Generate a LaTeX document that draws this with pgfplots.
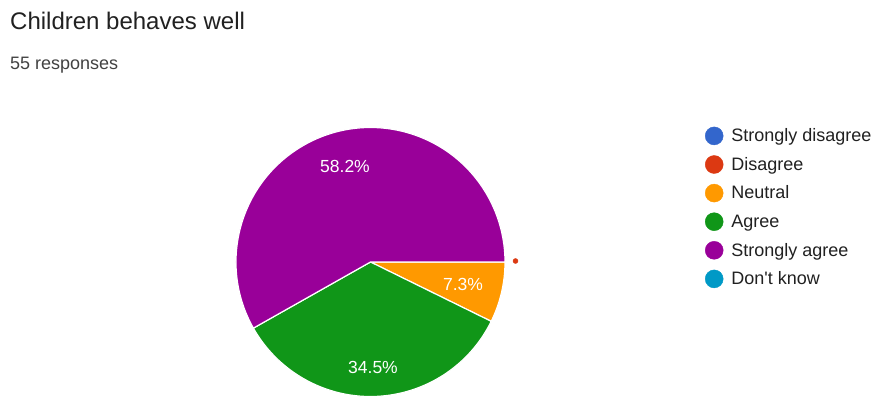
\documentclass[border=0pt]{standalone}
\usepackage{fontspec}
\setmainfont{Liberation Sans}
\usepackage{pgfplots}
\pgfplotsset{compat=1.18}
\usepackage{pgfplotstable}

\definecolor{cSD}{HTML}{3366CC}
\definecolor{cDis}{HTML}{DC3912}
\definecolor{cNeu}{HTML}{FF9900}
\definecolor{cAgr}{HTML}{109618}
\definecolor{cSA}{HTML}{990099}
\definecolor{cDK}{HTML}{0099C6}
\definecolor{txt}{HTML}{212121}

% responses per answer (55 in total)
\pgfplotstableread{
label count
Neutral 4
Agree 19
StronglyAgree 32
}\piedata
\pgfplotstablegetelem{0}{count}\of\piedata\let\cN\pgfplotsretval
\pgfplotstablegetelem{1}{count}\of\piedata\let\cA\pgfplotsretval
\pgfplotstablegetelem{2}{count}\of\piedata\let\cS\pgfplotsretval
\pgfmathsetmacro\total{\cN+\cA+\cS}
\pgfmathsetmacro\angN{-360*\cN/\total}
\pgfmathsetmacro\angA{\angN-360*\cA/\total}

\begin{document}
\begin{tikzpicture}
\begin{axis}[
  x=1pt, y=1pt, scale only axis,
  xmin=0, xmax=883, ymin=0, ymax=412,
  hide axis, clip=false,
  legend image code/.code={\fill (9pt,0pt) circle[radius=9pt];},
  legend cell align=left,
  legend style={at={(axis cs:705,285.3)}, anchor=north west,
    draw=none, fill=none, inner sep=0pt, outer sep=0pt,
    font=\fontsize{18}{18}\selectfont, text=txt,
    nodes={inner sep=0pt, text height=14.8pt, text depth=3.2pt},
    row sep=10.2pt,
    /tikz/every odd column/.append style={column sep=8pt}},
]
\coordinate (bl) at (axis cs:0,0);
\coordinate (tr) at (axis cs:883,412);
\fill[white] (axis cs:0,0) rectangle (axis cs:883,412);

% pie wedges, clockwise from 3 o'clock
\def\R{134.5pt}
\filldraw[cNeu, draw=white, line width=1.2pt] (axis cs:370.5,150) -- ++(0:\R)
  arc[start angle=0, end angle=\angN, radius=\R] -- cycle;
\filldraw[cAgr, draw=white, line width=1.2pt] (axis cs:370.5,150) -- ++(\angN:\R)
  arc[start angle=\angN, end angle=\angA, radius=\R] -- cycle;
\filldraw[cSA, draw=white, line width=1.2pt] (axis cs:370.5,150) -- ++(\angA:\R)
  arc[start angle=\angA, end angle=-360, radius=\R] -- cycle;

\addplot[only marks, mark=*, mark size=2.5pt, color=cDis, forget plot]
  coordinates {(515.5,151)};

\node[white, font=\fontsize{17.5}{18}\selectfont] at (axis cs:345,246) {58.2\%};
\node[white, font=\fontsize{17.5}{18}\selectfont] at (axis cs:373,45) {34.5\%};
\node[white, font=\fontsize{17.5}{18}\selectfont] at (axis cs:463,128) {7.3\%};

\node[anchor=base west, inner sep=0pt, text=txt, font=\fontsize{24}{28}\selectfont]
  at (axis cs:10,382) {Children behaves well};
\node[anchor=base west, inner sep=0pt, text=txt!85!white, font=\fontsize{18}{20}\selectfont]
  at (axis cs:10,342) {55 responses};

\addlegendimage{cSD}\addlegendentry{Strongly disagree}
\addlegendimage{cDis}\addlegendentry{Disagree}
\addlegendimage{cNeu}\addlegendentry{Neutral}
\addlegendimage{cAgr}\addlegendentry{Agree}
\addlegendimage{cSA}\addlegendentry{Strongly agree}
\addlegendimage{cDK}\addlegendentry{Don\textquotesingle t know}
\end{axis}
\pgfresetboundingbox
\useasboundingbox (bl) rectangle (tr);
\end{tikzpicture}
\end{document}
